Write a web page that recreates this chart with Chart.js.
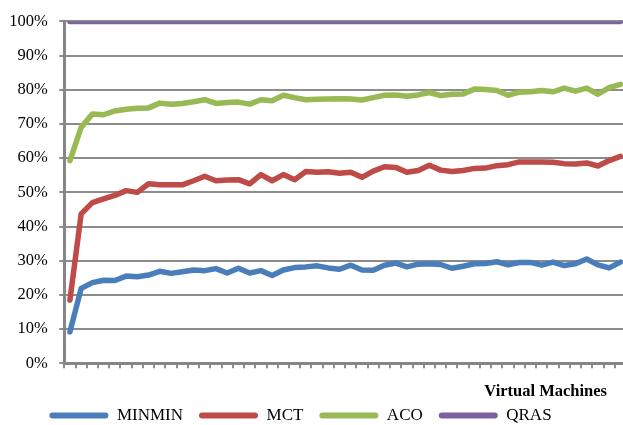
<!DOCTYPE html>
<html>
<head>
<meta charset="utf-8">
<script src="https://cdn.jsdelivr.net/npm/chart.js@4"></script>
<style>
    html, body { margin: 0; padding: 0; overflow: hidden; background: #fff; }
    #wrap { width: 626px; height: 434px; }
</style>
</head>
<body>
<div id="wrap"><canvas id="vm-chart" width="626" height="434"></canvas></div>
<script>
// number of virtual machines (x axis has no printed labels)
const vmCounts = [1, 2, 3, 4, 5, 6, 7, 8, 9, 10, 11, 12, 13, 14, 15, 16, 17, 18, 19, 20,
    21, 22, 23, 24, 25, 26, 27, 28, 29, 30, 31, 32, 33, 34, 35, 36, 37, 38, 39, 40,
    41, 42, 43, 44, 45, 46, 47, 48, 49, 50];

const minminData = [9.2, 21.9, 23.6, 24.3, 24.2, 25.5, 25.3, 25.8, 26.9, 26.3,
    26.8, 27.3, 27.1, 27.7, 26.4, 27.8, 26.4, 27.1, 25.7, 27.3,
    28.0, 28.2, 28.5, 27.9, 27.5, 28.7, 27.3, 27.2, 28.7, 29.3,
    28.2, 29.0, 29.1, 28.9, 27.8, 28.4, 29.1, 29.2, 29.7, 28.8,
    29.5, 29.5, 28.7, 29.6, 28.6, 29.1, 30.5, 28.8, 27.9, 29.6];

const mctData = [18.5, 43.7, 47.0, 48.1, 49.1, 50.5, 50.0, 52.5, 52.2, 52.2,
    52.2, 53.4, 54.7, 53.4, 53.6, 53.7, 52.5, 55.2, 53.4, 55.2,
    53.7, 56.1, 55.9, 56.0, 55.6, 55.9, 54.4, 56.2, 57.5, 57.3,
    55.9, 56.4, 57.9, 56.5, 56.1, 56.4, 57.0, 57.1, 57.8, 58.1,
    58.9, 58.9, 58.9, 58.8, 58.4, 58.3, 58.6, 57.7, 59.3, 60.5];

const acoData = [59.3, 69.0, 72.9, 72.7, 73.8, 74.3, 74.6, 74.7, 76.1, 75.8,
    76.0, 76.5, 77.1, 76.0, 76.3, 76.4, 75.8, 77.1, 76.8, 78.4,
    77.7, 77.1, 77.2, 77.3, 77.4, 77.3, 77.0, 77.7, 78.4, 78.5,
    78.1, 78.5, 79.2, 78.3, 78.7, 78.8, 80.2, 80.1, 79.8, 78.4,
    79.3, 79.4, 79.8, 79.4, 80.5, 79.6, 80.5, 78.7, 80.6, 81.6];

const qrasData = [100, 100, 100, 100, 100, 100, 100, 100, 100, 100,
    100, 100, 100, 100, 100, 100, 100, 100, 100, 100,
    100, 100, 100, 100, 100, 100, 100, 100, 100, 100,
    100, 100, 100, 100, 100, 100, 100, 100, 100, 100,
    100, 100, 100, 100, 100, 100, 100, 100, 100, 100];

const yTicks = [0, 10, 20, 30, 40, 50, 60, 70, 80, 90, 100];

const serif = '"Liberation Serif", "Times New Roman", serif';

function series(label, data, color) {
    return {
        label: label,
        data: data,
        borderColor: color,
        backgroundColor: color,
        borderWidth: 5.5,
        borderCapStyle: 'round',
        borderJoinStyle: 'round',
        pointRadius: 0,
        tension: 0
    };
}

// x axis title sits at the lower right, under the axis
const axisTitle = {
    id: 'axisTitle',
    afterDraw(chart) {
        const ctx = chart.ctx;
        ctx.save();
        ctx.font = 'bold 16.5px ' + serif;
        ctx.fillStyle = '#000';
        ctx.textAlign = 'right';
        ctx.textBaseline = 'alphabetic';
        ctx.fillText('Virtual Machines', chart.chartArea.right - 19, chart.chartArea.bottom + 33);
        ctx.restore();
    }
};

// nudge the legend a bit to the left like in the original
const legendShift = {
    id: 'legendShift',
    afterLayout(chart) {
        if (chart.legend) {
            chart.legend.right -= 25;
        }
    }
};

new Chart(document.getElementById('vm-chart'), {
    type: 'line',
    data: {
        labels: vmCounts,
        datasets: [
            series('MINMIN', minminData, '#4a7ebb'),
            series('MCT', mctData, '#be4b48'),
            series('ACO', acoData, '#98b954'),
            series('QRAS', qrasData, '#7d60a0')
        ]
    },
    plugins: [axisTitle, legendShift],
    options: {
        responsive: false,
        devicePixelRatio: 1,
        animation: false,
        layout: { padding: { top: 20.3, left: 0, right: 0, bottom: 0 } },
        plugins: {
            tooltip: { enabled: false },
            legend: {
                position: 'bottom',
                labels: {
                    font: { family: serif, size: 17 },
                    color: '#000',
                    boxWidth: 59,
                    boxHeight: 6,
                    padding: 16,
                    useBorderRadius: true,
                    borderRadius: 3,
                    generateLabels: function(chart) {
                        return Chart.defaults.plugins.legend.labels.generateLabels(chart).map(function(item) {
                            item.lineWidth = 0;
                            item.fillStyle = item.strokeStyle;
                            return item;
                        });
                    }
                }
            }
        },
        scales: {
            x: {
                type: 'category',
                offset: true,
                afterFit: function(scale) { scale.height = 27.7; },
                grid: {
                    offset: true,
                    drawOnChartArea: false,
                    drawTicks: true,
                    tickLength: 5,
                    color: '#8c8c8c',
                    lineWidth: 2
                },
                border: { color: '#868686', width: 3 },
                ticks: { display: false, autoSkip: false }
            },
            y: {
                min: 0,
                max: 100,
                afterFit: function(scale) { scale.width = 64.3; },
                afterBuildTicks: function(scale) {
                    scale.ticks = yTicks.map(function(v) { return { value: v }; });
                },
                grid: {
                    color: '#8c8c8c',
                    lineWidth: 2,
                    tickLength: 5
                },
                border: { color: '#868686', width: 3 },
                ticks: {
                    font: { family: serif, size: 16.5 },
                    color: '#000',
                    padding: 11.5,
                    callback: function(value) { return value + '%'; }
                }
            }
        }
    }
});
</script>
</body>
</html>
